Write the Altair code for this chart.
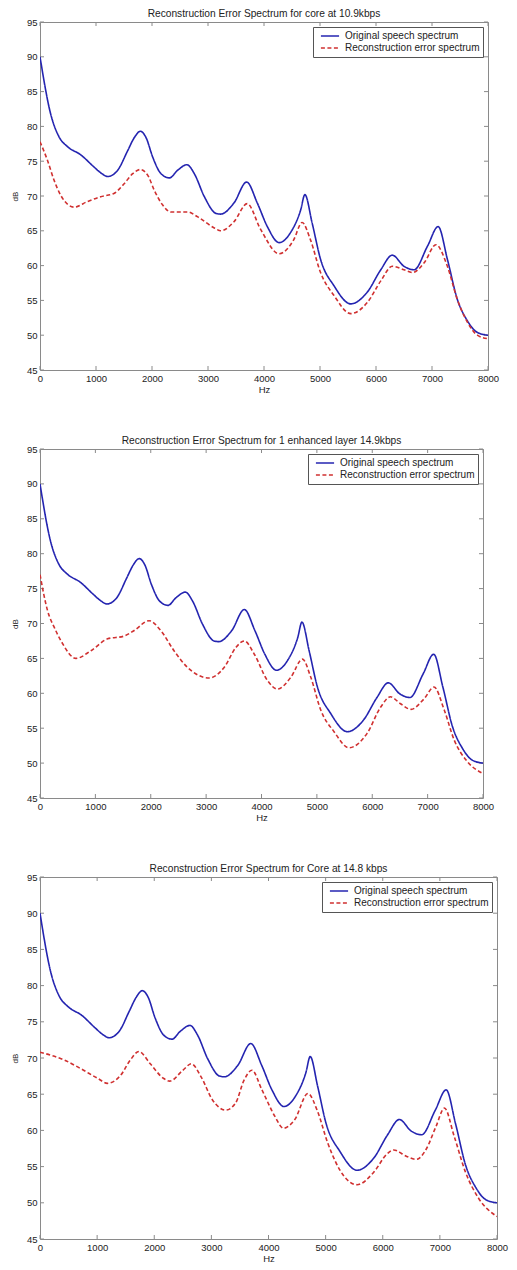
import altair as alt
import pandas as pd

# ---------------- data ----------------
series_names = ["Original speech spectrum", "Reconstruction error spectrum"]

titles = [
    "Reconstruction Error Spectrum for core at 10.9kbps",
    "Reconstruction Error Spectrum for 1 enhanced layer 14.9kbps",
    "Reconstruction Error Spectrum for Core at 14.8 kbps",
]

x_ticks = [0, 1000, 2000, 3000, 4000, 5000, 6000, 7000, 8000]
y_ticks = [45, 50, 55, 60, 65, 70, 75, 80, 85, 90, 95]

# original speech spectrum (same in all three panels)
orig_hz = [0, 190, 340, 490, 730, 960, 1089, 1208, 1387, 1565, 1685, 1792, 1893, 2012,
           2161, 2310, 2458, 2625, 2756, 2935, 3143, 3226, 3464, 3690, 3880, 4060, 4270,
           4470, 4655, 4730, 4860, 5010, 5250, 5550, 5845, 6085, 6290, 6500, 6680, 6920,
           7110, 7275, 7450, 7630, 7810, 8000]
orig_db = [90, 81.8, 78.5, 77.1, 75.9, 74.2, 73.3, 72.8, 73.7, 76.5, 78.4, 79.3, 78.4, 75.6,
           73.2, 72.6, 73.7, 74.5, 73.2, 69.9, 67.5, 67.4, 69.0, 72.0, 69.0, 65.6, 63.3,
           64.7, 68.0, 70.2, 66.1, 60.9, 57.1, 54.5, 56.2, 59.4, 61.5, 59.9, 59.4, 62.8,
           65.6, 60.9, 55.2, 52.1, 50.4, 50.0]

# reconstruction error spectrum, panel 1
err1_hz = [0, 130, 250, 370, 610, 845, 1083, 1327, 1506, 1655, 1792, 1923, 2042, 2191,
           2339, 2637, 2816, 3113, 3226, 3464, 3700, 3940, 4270, 4530, 4680, 4830, 5010,
           5250, 5550, 5845, 6085, 6290, 6500, 6650, 6860, 7070, 7275, 7450, 7630, 7810, 8000]
err1_db = [77.8, 75.2, 72.3, 70.1, 68.4, 69.2, 69.9, 70.4, 71.8, 73.2, 73.8, 73.0, 70.8, 68.7,
           67.7, 67.7, 67.0, 65.4, 65.0, 66.3, 68.9, 65.2, 61.7, 63.7, 66.2, 63.7, 59.0,
           55.7, 53.1, 54.7, 57.8, 59.9, 59.4, 59.0, 60.4, 63.0, 59.9, 55.2, 51.9, 50.0, 49.5]

# reconstruction error spectrum, panel 2
err2_hz = [0, 138, 260, 380, 650, 920, 1220, 1520, 1700, 1970, 2180, 2420, 2665, 3055,
           3325, 3540, 3690, 3870, 4110, 4290, 4530, 4740, 4890, 5070, 5310, 5580, 5910,
           6150, 6330, 6510, 6700, 6935, 7115, 7300, 7480, 7720, 8000]
err2_db = [77.0, 71.8, 69.4, 67.5, 65.0, 66.1, 67.8, 68.2, 69.0, 70.4, 69.0, 66.1, 63.7, 62.2,
           63.7, 66.6, 67.5, 65.6, 61.8, 60.6, 62.3, 64.9, 62.3, 57.6, 54.5, 52.2, 54.3,
           58.0, 59.5, 58.5, 57.7, 59.2, 60.9, 57.6, 53.3, 50.2, 48.5]

# reconstruction error spectrum, panel 3
err3_hz = [0, 430, 720, 1007, 1180, 1410, 1580, 1730, 1930, 2160, 2270, 2500, 2650, 2820,
           3020, 3250, 3425, 3570, 3710, 3885, 4115, 4260, 4460, 4690, 4860, 5035, 5320,
           5550, 5840, 6070, 6190, 6420, 6590, 6760, 6935, 7080, 7250, 7450, 7680, 8000]
err3_db = [70.8, 69.7, 68.5, 67.2, 66.5, 67.6, 69.7, 70.9, 69.2, 67.2, 66.8, 68.3, 69.2, 67.4,
           64.2, 62.8, 63.8, 66.9, 68.3, 65.6, 61.9, 60.3, 61.5, 65.1, 62.6, 58.3, 53.7,
           52.5, 54.2, 56.7, 57.3, 56.4, 56.0, 57.4, 60.6, 63.1, 59.2, 54.2, 50.6, 48.1]

errors = [(err1_hz, err1_db), (err2_hz, err2_db), (err3_hz, err3_db)]
sizes = [(448, 348), (443, 349), (457, 362)]

# ---------------- styling ----------------
FONT = "Liberation Sans"
BLUE = "#2424b0"
RED = "#d03030"
FRAME = "#8a8a8a"


def x_enc(field="hz"):
    return alt.X(
        f"{field}:Q",
        title="Hz",
        scale=alt.Scale(domain=[0, 8000], nice=False, zero=False),
        axis=alt.Axis(values=x_ticks, format="d", ticks=False, domain=False, grid=False,
                      labelFontSize=9.5, labelPadding=3, labelColor="#222",
                      titleFontSize=9.5, titleFontWeight="normal", titlePadding=2,
                      titleColor="#222", labelFlush=False, labelOverlap=False),
    )


def y_enc(field="db"):
    return alt.Y(
        f"{field}:Q",
        title="dB",
        scale=alt.Scale(domain=[45, 95], nice=False, zero=False),
        axis=alt.Axis(values=y_ticks, ticks=False, domain=False, grid=False,
                      labelFontSize=9.5, labelPadding=3, labelColor="#222",
                      titleFontSize=8, titleFontWeight="normal", titlePadding=7,
                      titleColor="#222", labelFlush=False, labelOverlap=False),
    )


def panel(title, err_hz, err_db, W, H):
    df = pd.concat([
        pd.DataFrame({"hz": orig_hz, "db": orig_db, "series": series_names[0]}),
        pd.DataFrame({"hz": err_hz, "db": err_db, "series": series_names[1]}),
    ])
    lines = alt.Chart(df).mark_line(interpolate="monotone", strokeWidth=1.6, clip=True).encode(
        x=x_enc(),
        y=y_enc(),
        color=alt.Color("series:N",
                        scale=alt.Scale(domain=series_names, range=[BLUE, RED]),
                        legend=alt.Legend(title=None)),
        strokeDash=alt.StrokeDash("series:N",
                                  scale=alt.Scale(domain=series_names, range=[[1, 0], [4, 2.5]]),
                                  legend=alt.Legend(title=None)),
    )
    xdf = pd.DataFrame({"hz": x_ticks})
    ydf = pd.DataFrame({"db": y_ticks})
    tick_x_top = alt.Chart(xdf).mark_rule(color=FRAME, strokeWidth=1).encode(
        x=x_enc(), y=alt.value(0), y2=alt.value(4))
    tick_x_bot = alt.Chart(xdf).mark_rule(color=FRAME, strokeWidth=1).encode(
        x=x_enc(), y=alt.value(H - 4), y2=alt.value(H))
    tick_y_left = alt.Chart(ydf).mark_rule(color=FRAME, strokeWidth=1).encode(
        y=y_enc(), x=alt.value(0), x2=alt.value(4))
    tick_y_right = alt.Chart(ydf).mark_rule(color=FRAME, strokeWidth=1).encode(
        y=y_enc(), x=alt.value(W - 4), x2=alt.value(W))
    return alt.layer(tick_x_top, tick_x_bot, tick_y_left, tick_y_right, lines).properties(
        width=W, height=H,
        title=alt.Title(title, fontSize=10.2, fontWeight="normal", color="#222",
                        anchor="middle", offset=-2),
    )


panels = [panel(t, e[0], e[1], s[0], s[1]) for t, e, s in zip(titles, errors, sizes)]

chart = alt.vconcat(*panels, spacing=40).resolve_scale(
    color="independent", strokeDash="independent"
).properties(
    padding={"left": 2, "top": 0, "right": 0, "bottom": 0}
).configure(font=FONT).configure_view(
    stroke=FRAME, strokeWidth=1
).configure_legend(
    orient="top-right", offset=5, strokeColor="#555", fillColor="white",
    padding=3, symbolType="stroke", symbolSize=330, symbolStrokeWidth=1.6,
    symbolOffset=4, clipHeight=12, rowPadding=0,
    labelFontSize=10, labelColor="#222", labelOffset=5, labelLimit=300,
)

chart.save("out.html", embed_options={"renderer": "svg", "actions": False})
